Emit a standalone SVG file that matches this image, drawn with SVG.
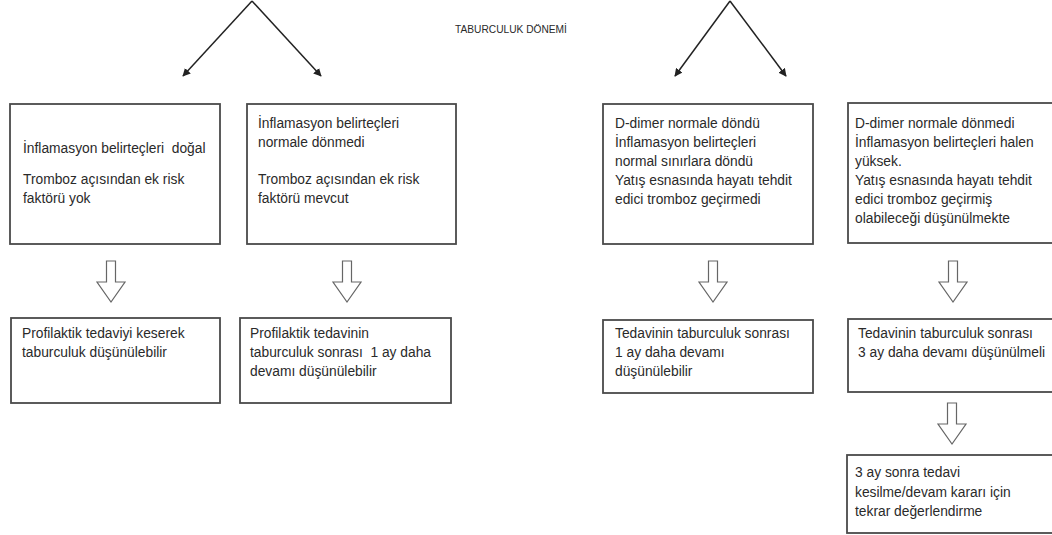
<svg xmlns="http://www.w3.org/2000/svg" width="1052" height="535" viewBox="0 0 1052 535">
<defs>
<style>
.box{fill:#fff;stroke:#4a4a4a;stroke-width:1.8}
.t{font-family:"Liberation Sans",Arial,sans-serif;font-size:13.8px;fill:#2a2a2a;white-space:pre}
.title{font-family:"Liberation Sans",Arial,sans-serif;font-size:10.2px;fill:#2a2a2a}
.line{stroke:#222;stroke-width:1.5;fill:none}
.hollow{fill:#fff;stroke:#666;stroke-width:1.2}
</style>
<marker id="ah" viewBox="0 0 10 10" refX="9" refY="5" markerWidth="8" markerHeight="8" orient="auto" markerUnits="userSpaceOnUse">
<path d="M0,0 L10,5 L0,10 z" fill="#222"/>
</marker>
<path id="down" d="M-4.5,0 H4.5 V21 H14 L0,41 L-14,21 H-4.5 Z"/>
</defs>
<rect width="1052" height="535" fill="#fff"/>

<text class="title" x="455" y="33">TABURCULUK DÖNEMİ</text>

<g id="connectors">
<path class="line" d="M252,1 L183,76" marker-end="url(#ah)"/>
<path class="line" d="M252,1 L321,76" marker-end="url(#ah)"/>
<path class="line" d="M730,1 L675,76" marker-end="url(#ah)"/>
<path class="line" d="M730,1 L786,76" marker-end="url(#ah)"/>
<use href="#down" class="hollow" x="111" y="261"/>
<use href="#down" class="hollow" x="347" y="261"/>
<use href="#down" class="hollow" x="713" y="261"/>
<use href="#down" class="hollow" x="953" y="261"/>
<use href="#down" class="hollow" x="952" y="403"/>
</g>

<g id="n1">
<rect class="box" x="10" y="104" width="210" height="140"/>
<text class="t" x="23" y="153" xml:space="preserve">İnflamasyon belirteçleri  doğal</text>
<text class="t" x="23" y="184">Tromboz açısından ek risk</text>
<text class="t" x="23" y="203">faktörü yok</text>
</g>

<g id="n2">
<rect class="box" x="247" y="104" width="209" height="140"/>
<text class="t" x="258" y="128">İnflamasyon belirteçleri</text>
<text class="t" x="258" y="147">normale dönmedi</text>
<text class="t" x="258" y="184">Tromboz açısından ek risk</text>
<text class="t" x="258" y="203">faktörü mevcut</text>
</g>

<g id="n3">
<rect class="box" x="603" y="104" width="210" height="140"/>
<text class="t" x="615" y="128">D-dimer normale döndü</text>
<text class="t" x="615" y="147">İnflamasyon belirteçleri</text>
<text class="t" x="615" y="166">normal sınırlara döndü</text>
<text class="t" x="615" y="185">Yatış esnasında hayatı tehdit</text>
<text class="t" x="615" y="204">edici tromboz geçirmedi</text>
</g>

<g id="n4">
<rect class="box" x="848" y="103" width="212" height="140"/>
<text class="t" x="855" y="128">D-dimer normale dönmedi</text>
<text class="t" x="855" y="147">İnflamasyon belirteçleri halen</text>
<text class="t" x="855" y="166">yüksek.</text>
<text class="t" x="855" y="185">Yatış esnasında hayatı tehdit</text>
<text class="t" x="855" y="204">edici tromboz geçirmiş</text>
<text class="t" x="855" y="223">olabileceği düşünülmekte</text>
</g>

<g id="n5">
<rect class="box" x="11" y="318" width="209" height="85"/>
<text class="t" x="22" y="338">Profilaktik tedaviyi keserek</text>
<text class="t" x="22" y="357">taburculuk düşünülebilir</text>
</g>

<g id="n6">
<rect class="box" x="240" y="318" width="211" height="85"/>
<text class="t" x="250" y="338">Profilaktik tedavinin</text>
<text class="t" x="250" y="357" xml:space="preserve">taburculuk sonrası  1 ay daha</text>
<text class="t" x="250" y="376">devamı düşünülebilir</text>
</g>

<g id="n7">
<rect class="box" x="603" y="320" width="210" height="73"/>
<text class="t" x="615" y="338">Tedavinin taburculuk sonrası</text>
<text class="t" x="615" y="357">1 ay daha devamı</text>
<text class="t" x="615" y="376">düşünülebilir</text>
</g>

<g id="n8">
<rect class="box" x="848" y="319" width="212" height="73"/>
<text class="t" x="858" y="338">Tedavinin taburculuk sonrası</text>
<text class="t" x="858" y="357">3 ay daha devamı düşünülmeli</text>
</g>

<g id="n9">
<rect class="box" x="847" y="455" width="213" height="78"/>
<text class="t" x="855" y="477">3 ay sonra tedavi</text>
<text class="t" x="855" y="497">kesilme/devam kararı için</text>
<text class="t" x="855" y="516">tekrar değerlendirme</text>
</g>
</svg>
